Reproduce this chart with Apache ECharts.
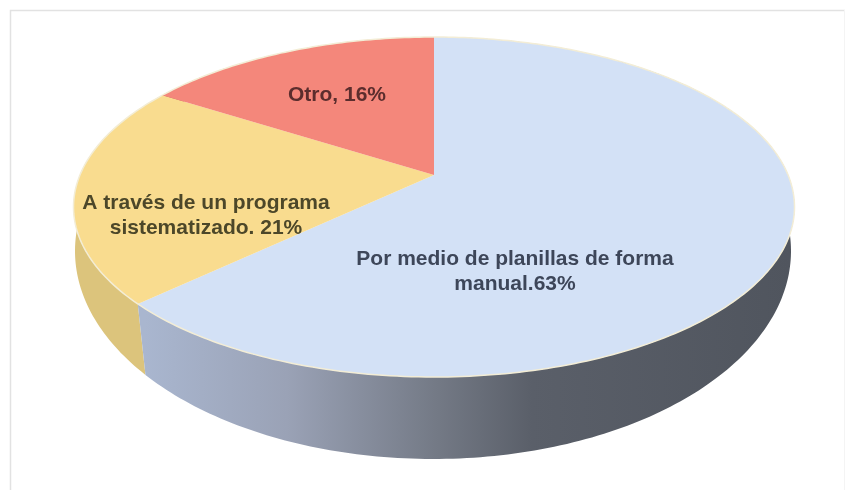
<!DOCTYPE html>
<html>
<head>
<meta charset="utf-8">
<style>html,body{margin:0;padding:0;background:#fff}#chart{width:849px;height:496px}</style>
<script src="https://cdn.jsdelivr.net/npm/echarts@6/dist/echarts.min.js"></script>
</head>
<body>
<div id="chart"></div>
<script>
// Survey shares, clockwise from twelve o'clock
const categories = ['Por medio de planillas de forma manual', 'A través de un programa sistematizado', 'Otro'];
const shares = [63, 21, 16];
const labelLines = [
  ['Por medio de planillas de forma', 'manual.63%'],
  ['A través de un programa', 'sistematizado. 21%'],
  ['Otro, 16%']
];

// Drawing style for each slice
const faceColors = ['#d3e1f6', '#f9dc8f', '#f4877b'];
const textColors = ['#3d4659', '#4c4729', '#5b2d2d'];
const labelCentres = [[515, 272], [206, 216], [337, 95]];

// Tilted disc: upper and lower rim ellipses. Each rim carries the offset of
// the pie's hub from the ellipse centre once perspective is applied.
const upperRim = { cx: 434, cy: 207, rx: 360.5, ry: 170, hub: -0.188 };
const lowerRim = { cx: 433, cy: 251, rx: 358, ry: 208, hub: -0.15 };

// Projects a pie angle (radians clockwise from the top) onto a rim ellipse.
function rimPoint(rim, angle, radius) {
  const x = Math.sin(angle) * radius;
  const y = -Math.cos(angle) * radius;
  const d = 1 + rim.hub * y;
  const u = x * Math.sqrt(1 - rim.hub * rim.hub) / d;
  const v = (y + rim.hub) / d;
  return [rim.cx + rim.rx * u, rim.cy + rim.ry * v];
}

function arcPoints(rim, from, to) {
  const steps = Math.max(2, Math.ceil(Math.abs(to - from) * 60));
  const pts = [];
  for (let i = 0; i <= steps; i++) {
    pts.push(rimPoint(rim, from + (to - from) * i / steps, 1));
  }
  return pts;
}

function sideFill(index) {
  if (index === 0) {
    return new echarts.graphic.LinearGradient(145, 0, 790, 0, [
      { offset: 0, color: '#a9b6cf' },
      { offset: 0.22, color: '#9aa2b6' },
      { offset: 0.45, color: '#747a86' },
      { offset: 0.6, color: '#5a5f69' },
      { offset: 1, color: '#50555e' }
    ], true);
  }
  return index === 1 ? '#dcc47c' : '#c46a60';
}

const total = shares.reduce((a, b) => a + b, 0);

function renderSlice(params, api) {
  const i = params.dataIndex;
  let before = 0;
  for (let k = 0; k < i; k++) before += shares[k];
  const start = before / total * Math.PI * 2;
  const end = start + api.value(0) / total * Math.PI * 2;

  const topArc = arcPoints(upperRim, start, end);
  const lowArc = arcPoints(lowerRim, start, end).reverse();
  const hub = rimPoint(upperRim, 0, 0);

  const children = [
    {
      type: 'polygon',
      z2: 1 + (i === 0 ? 1 : 0),
      shape: { points: topArc.concat(lowArc) },
      style: { fill: sideFill(i) }
    },
    {
      type: 'polygon',
      z2: 3,
      shape: { points: [hub].concat(topArc) },
      style: { fill: faceColors[i] }
    },
    {
      type: 'polyline',
      z2: 4,
      shape: { points: topArc },
      style: { fill: 'none', stroke: '#f3edd6', lineWidth: 1.5 }
    }
  ];
  labelLines[i].forEach((line, n) => {
    children.push({
      type: 'text',
      z2: 5,
      x: labelCentres[i][0],
      y: labelCentres[i][1] + (n - (labelLines[i].length - 1) / 2) * 25,
      style: {
        text: line,
        fill: textColors[i],
        font: 'bold 21px "Liberation Sans", Arial, sans-serif',
        align: 'center',
        verticalAlign: 'middle'
      }
    });
  });
  return { type: 'group', children };
}

const chart = echarts.init(document.getElementById('chart'), null, { renderer: 'canvas' });
chart.setOption({
  animation: false,
  backgroundColor: '#ffffff',
  graphic: [
    {
      type: 'polyline',
      silent: true,
      shape: { points: [[10.5, 490], [10.5, 10.5], [845, 10.5]] },
      style: { fill: 'none', stroke: '#e2e2e2', lineWidth: 1.5 }
    },
    {
      type: 'line',
      silent: true,
      shape: { x1: 844.5, y1: 10, x2: 844.5, y2: 490 },
      style: { stroke: '#f4f4f4', lineWidth: 1 }
    }
  ],
  series: [{
    type: 'custom',
    coordinateSystem: 'none',
    renderItem: renderSlice,
    data: shares.map((v, i) => ({ name: categories[i], value: [v] }))
  }]
});
</script>
</body>
</html>
